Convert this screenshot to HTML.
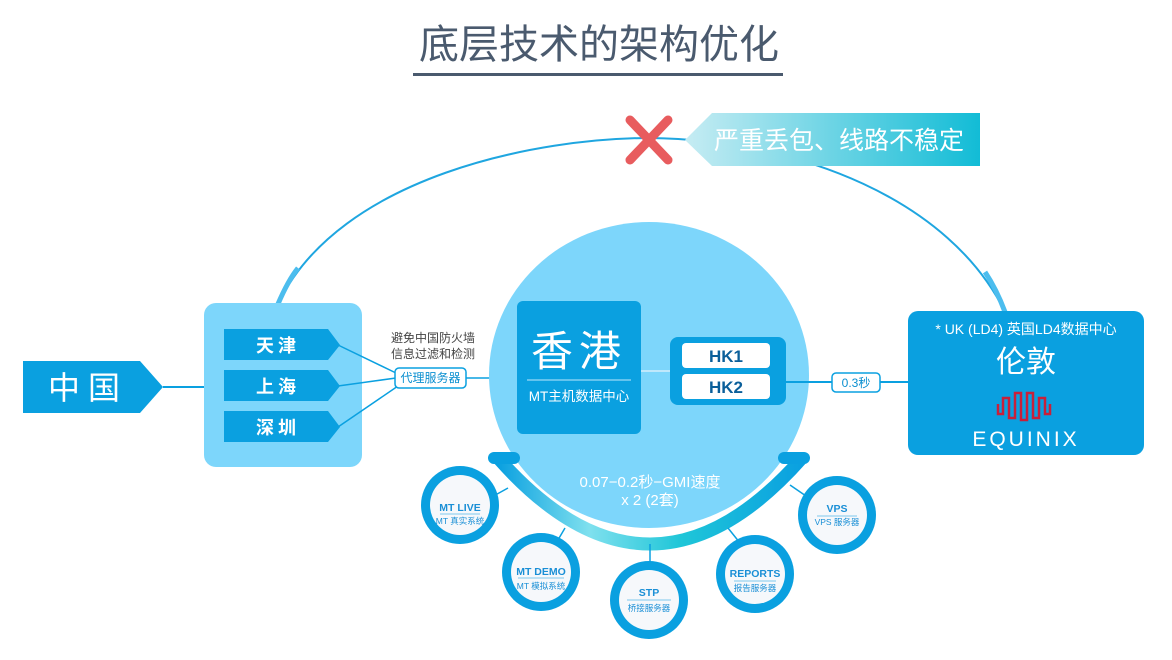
<!DOCTYPE html>
<html><head><meta charset="utf-8"><style>
html,body{margin:0;padding:0;background:#fff;}
svg{display:block;font-family:"Liberation Sans","Noto Sans CJK SC",sans-serif;}
</style></head><body>
<svg width="1172" height="660" viewBox="0 0 1172 660" xmlns="http://www.w3.org/2000/svg">
<defs>
<linearGradient id="ban" x1="0" x2="1" y1="0" y2="0"><stop offset="0" stop-color="#c6ecf3"/><stop offset="1" stop-color="#12bcd6"/></linearGradient>
<linearGradient id="band" x1="0" x2="1" y1="0" y2="0"><stop offset="0" stop-color="#0aa0e0"/><stop offset="0.3" stop-color="#7fe0ee"/><stop offset="0.6" stop-color="#1fc6d8"/><stop offset="1" stop-color="#0aa0e0"/></linearGradient>
</defs>
<text x="599" y="58" text-anchor="middle" font-size="40" fill="#4a5a6e">底层技术的架构优化</text>
<rect x="413" y="73" width="370" height="3" fill="#4a5a6e"/>
<path d="M278,304 C340,175 540,138 650,138 C800,140 950,200 1005,312" fill="none" stroke="#1fa6e0" stroke-width="2"/>
<path d="M278,304 C284,290 290,278 298,268" fill="none" stroke="#4cbdee" stroke-width="5"/>
<path d="M985,272 C993,284 999,296 1005,312" fill="none" stroke="#4cbdee" stroke-width="5"/>
<polygon points="685,140 712,113 980,113 980,166 712,166" fill="url(#ban)"/>
<text x="714" y="149" font-size="25" fill="#fff">严重丢包、线路不稳定</text>
<g stroke="#e85c5e" stroke-width="9" stroke-linecap="round"><line x1="630" y1="120" x2="668" y2="160"/><line x1="668" y1="120" x2="630" y2="160"/></g>
<polygon points="23,361 140,361 163,387 140,413 23,413" fill="#0aa0e0"/>
<text x="88" y="399" text-anchor="middle" font-size="32" fill="#fff" letter-spacing="8">中国</text>
<line x1="163" y1="387" x2="204" y2="387" stroke="#0aa0e0" stroke-width="2"/>
<rect x="204" y="303" width="158" height="164" rx="12" fill="#7dd6fb"/>
<g fill="#0aa0e0">
<polygon points="224,329 328,329 340,345 328,360 224,360"/>
<polygon points="224,370 328,370 340,386 328,401 224,401"/>
<polygon points="224,411 328,411 340,427 328,442 224,442"/>
</g>
<g font-size="18" font-weight="bold" fill="#fff" text-anchor="middle" letter-spacing="4">
<text x="278" y="352">天津</text><text x="278" y="393">上海</text><text x="278" y="434">深圳</text></g>
<g stroke="#0aa0e0" stroke-width="1.5" fill="none">
<line x1="338" y1="345" x2="396" y2="373"/><line x1="338" y1="386" x2="396" y2="378"/><line x1="338" y1="427" x2="398" y2="386"/>
<line x1="466" y1="378" x2="492" y2="378"/>
</g>
<text x="391" y="342" font-size="12" fill="#444">避免中国防火墙</text>
<text x="391" y="358" font-size="12" fill="#444">信息过滤和检测</text>
<ellipse cx="649" cy="375" rx="160" ry="153" fill="#7dd6fb"/>
<rect x="395" y="368" width="71" height="20" rx="4" fill="#fff" stroke="#0aa0e0" stroke-width="1.5"/>
<text x="430.5" y="382" text-anchor="middle" font-size="12" fill="#0a8fd0">代理服务器</text>
<rect x="517" y="301" width="124" height="133" rx="6" fill="#0aa0e0"/>
<text x="579" y="366" text-anchor="middle" font-size="42" fill="#fff" letter-spacing="6">香港</text>
<line x1="527" y1="380" x2="631" y2="380" stroke="#bfe8fb" stroke-width="1"/>
<text x="579" y="401" text-anchor="middle" font-size="13.5" fill="#fff">MT主机数据中心</text>
<line x1="641" y1="371" x2="670" y2="371" stroke="#bfe8fb" stroke-width="2"/>
<rect x="670" y="337" width="116" height="68" rx="8" fill="#0aa0e0"/>
<rect x="682" y="343" width="88" height="25" rx="4" fill="#fff"/>
<rect x="682" y="374" width="88" height="25" rx="4" fill="#fff"/>
<text x="726" y="362" text-anchor="middle" font-size="17" font-weight="bold" fill="#0a5f9a">HK1</text>
<text x="726" y="393" text-anchor="middle" font-size="17" font-weight="bold" fill="#0a5f9a">HK2</text>
<line x1="786" y1="382" x2="908" y2="382" stroke="#0aa0e0" stroke-width="2"/>
<rect x="832" y="373" width="48" height="19" rx="4" fill="#fff" stroke="#0aa0e0" stroke-width="1.5"/>
<text x="856" y="387" text-anchor="middle" font-size="12" fill="#0a8fd0">0.3秒</text>
<rect x="908" y="311" width="236" height="144" rx="10" fill="#0aa0e0"/>
<text x="1026" y="334" text-anchor="middle" font-size="14" fill="#fff">* UK (LD4) 英国LD4数据中心</text>
<text x="1026" y="372" text-anchor="middle" font-size="30" fill="#fff">伦敦</text>
<path d="M998,404 V414 H1003 V398 H1009 V418 H1015 V393 H1021 V420 H1027 V393 H1033 V418 H1039 V398 H1045 V414 H1050 V404" fill="none" stroke="#c8203a" stroke-width="2.5"/>
<text x="1026" y="446" text-anchor="middle" font-size="21" fill="#fff" letter-spacing="3">EQUINIX</text>
<path d="M498,458 Q650,630 802,458" fill="none" stroke="url(#band)" stroke-width="13"/>
<rect x="488" y="452" width="32" height="12" rx="6" fill="#0aa0e0"/>
<rect x="778" y="452" width="32" height="12" rx="6" fill="#0aa0e0"/>
<text x="650" y="487" text-anchor="middle" font-size="15" fill="#fff">0.07−0.2秒−GMI速度</text>
<text x="650" y="505" text-anchor="middle" font-size="15" fill="#fff">x 2 (2套)</text>
<g stroke="#0aa0e0" stroke-width="1.5">
<line x1="508" y1="488" x2="490" y2="498"/><line x1="565" y1="528" x2="555" y2="545"/><line x1="650" y1="544" x2="650" y2="564"/><line x1="728" y1="528" x2="740" y2="543"/><line x1="790" y1="485" x2="806" y2="496"/>
</g>
<g>
<circle cx="460" cy="505" r="39" fill="#0aa0e0"/><circle cx="460" cy="505" r="30" fill="#f6f8fb"/>
<circle cx="541" cy="572" r="39" fill="#0aa0e0"/><circle cx="541" cy="572" r="30" fill="#f6f8fb"/>
<circle cx="649" cy="600" r="39" fill="#0aa0e0"/><circle cx="649" cy="600" r="30" fill="#f6f8fb"/>
<circle cx="755" cy="574" r="39" fill="#0aa0e0"/><circle cx="755" cy="574" r="30" fill="#f6f8fb"/>
<circle cx="837" cy="515" r="39" fill="#0aa0e0"/><circle cx="837" cy="515" r="30" fill="#f6f8fb"/>
</g>
<g text-anchor="middle" fill="#1a8fd6">
<text x="460" y="511" font-size="10.5" font-weight="bold">MT LIVE</text><line x1="440" y1="514" x2="480" y2="514" stroke="#7fc8ee"/><text x="460" y="524" font-size="8.5">MT 真实系统</text>
<text x="541" y="575" font-size="10.5" font-weight="bold">MT DEMO</text><line x1="518" y1="578" x2="564" y2="578" stroke="#7fc8ee"/><text x="541" y="589" font-size="8.5">MT 模拟系统</text>
<text x="649" y="596" font-size="10.5" font-weight="bold">STP</text><line x1="627" y1="600" x2="671" y2="600" stroke="#7fc8ee"/><text x="649" y="611" font-size="8.5">桥接服务器</text>
<text x="755" y="577" font-size="10.5" font-weight="bold">REPORTS</text><line x1="734" y1="581" x2="776" y2="581" stroke="#7fc8ee"/><text x="755" y="591" font-size="8.5">报告服务器</text>
<text x="837" y="512" font-size="10.5" font-weight="bold">VPS</text><line x1="817" y1="516" x2="857" y2="516" stroke="#7fc8ee"/><text x="837" y="525" font-size="8.5">VPS 服务器</text>
</g>
</svg>
</body></html>
